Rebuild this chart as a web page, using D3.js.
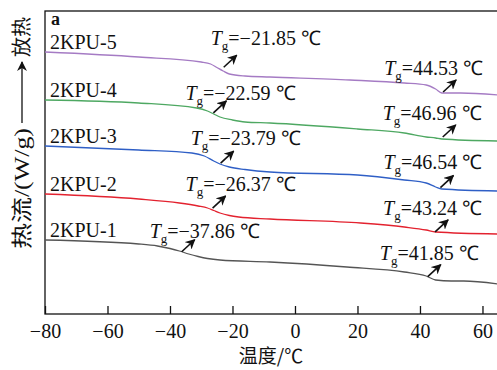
<!DOCTYPE html>
<html>
<head>
<meta charset="utf-8">
<script src="https://cdn.jsdelivr.net/npm/d3@7"></script>
<style>
  body { margin: 0; background: #fff; }
  text { font-family: "Liberation Serif", "Times New Roman", serif; fill: #111; }
  .cjk { font-family: "Noto Sans CJK SC", sans-serif; }
</style>
</head>
<body>
<script>
// DSC curves, heat flow in arbitrary units (offset stacked)
const names = ['2KPU-1', '2KPU-2', '2KPU-3', '2KPU-4', '2KPU-5']
const colors = ['#555555', '#e3222f', '#2f5fc6', '#4ea862', '#a57bc4']

const temp1 = [-80, -50, -44, -40, -37, -34, -31, -28, -24, -8, 16.6, 35, 42, 45, 50, 54, 65]
const flow1 = [74, 70, 68, 65.5, 63, 60, 57.5, 55.5, 54, 52, 47, 42, 38, 34, 33, 33, 30]
const temp2 = [-80, -50, -37, -31, -28, -26, -24, -21, -18, -8, 21, 35, 42, 45, 65]
const flow2 = [120, 115, 111, 108, 106, 103.5, 101, 98.5, 97, 95, 91, 87, 84, 82, 80]
const temp3 = [-80, -50, -33, -29, -26, -24, -21, -16, -8, 20, 35, 42, 45, 47, 65]
const flow3 = [168, 164, 161, 158, 153, 150, 147, 144.5, 142, 139, 134, 131, 127, 125, 123]
const temp4 = [-80, -50, -31.5, -28, -26, -24, -20, -16, -8, 20, 35, 42, 45, 47, 65]
const flow4 = [214, 211, 206, 203, 200, 197, 194, 192, 191, 185, 181, 177, 176, 175, 173]
const temp5 = [-80, -50, -30, -27, -25, -23, -21, -16, -8, 17.6, 35, 42, 45, 47, 53, 65]
const flow5 = [262, 257, 252, 250, 246.5, 243, 240, 238, 237, 234, 231, 229, 225, 221, 221, 219]

// glass transitions: which curve, and the Tg value
const tgCurve = [5, 5, 4, 4, 3, 3, 2, 2, 1, 1]
const tgValue = [-21.85, 44.53, -22.59, 46.96, -23.79, 46.54, -26.37, 43.24, -37.86, 41.85]
const tgText = ['−21.85', '44.53', '−22.59', '46.96', '−23.79', '46.54', '−26.37', '43.24', '−37.86', '41.85']

const xTicks = [-80, -60, -40, -20, 0, 20, 40, 60]

// layout of the annotation arrows and labels (pixel offsets)
const annLayout = [
  { dx: -3, dy: -4, tx: -26, ty: -10 },
  { dx: 9, dy: -1, tx: -72, ty: -5 },
  { dx: -11, dy: -1, tx: -41, ty: -1 },
  { dx: 1, dy: -2, tx: -73, ty: -5 },
  { dx: 0, dy: -1, tx: -43, ty: -6 },
  { dx: 0, dy: -1, tx: -70, ty: -7 },
  { dx: 0, dy: -2, tx: -40, ty: -5 },
  { dx: 5, dy: 0, tx: -65, ty: -5 },
  { dx: 5, dy: 0, tx: -45, ty: -2 },
  { dx: 2, dy: 0, tx: -61, ty: -5 }
]

const m = { width: 497, height: 370, left: 45, top: 11, bottom: 314 }

const temps = [temp1, temp2, temp3, temp4, temp5]
const flows = [flow1, flow2, flow3, flow4, flow5]
const data = names.map((n, i) => temps[i].map((t, j) => ({ t: t, v: flows[i][j] })))

const svg = d3.select('body').append('svg')
  .attr('width', m.width)
  .attr('height', m.height)

const x = d3.scaleLinear().domain([-80, 65]).range([m.left, 498.1])
const y = d3.scaleLinear().domain([0, 303]).range([m.bottom, m.top])

// frame
svg.append('rect')
  .attr('x', m.left).attr('y', m.top)
  .attr('width', 498.1 - m.left).attr('height', m.bottom - m.top)
  .attr('fill', 'none').attr('stroke', '#111').attr('stroke-width', 1.3)

// bottom axis, ticks pointing inward
const xAxis = d3.axisBottom(x).tickValues(xTicks).tickSize(-8).tickPadding(10)
  .tickFormat(d => d < 0 ? '−' + Math.abs(d) : d)
const gx = svg.append('g')
  .attr('transform', `translate(0,${m.bottom})`)
  .call(xAxis)
  .attr('font-family', null)
gx.select('.domain').remove()
gx.selectAll('line').attr('stroke', '#111').attr('stroke-width', 1.3)
gx.selectAll('text')
  .style('font-family', '"Liberation Serif", serif')
  .style('font-size', '20px').attr('fill', '#111')

// curves
const line = d3.line().x(d => x(d.t)).y(d => y(d.v)).curve(d3.curveMonotoneX)
svg.selectAll('path.curve')
  .data(data)
  .join('path')
  .attr('class', 'curve')
  .attr('d', line)
  .attr('fill', 'none')
  .attr('stroke', (d, i) => colors[i])
  .attr('stroke-width', 1.3)

// curve names
svg.selectAll('text.name')
  .data(data)
  .join('text')
  .attr('class', 'name')
  .attr('x', x(-80) + 5)
  .attr('y', d => y(d[0].v) - 3)
  .style('font-size', '20px')
  .text((d, i) => names[i])

svg.append('text')
  .attr('x', 51).attr('y', 25)
  .style('font-size', '18px').style('font-weight', 'bold')
  .text('a')

// arrows + Tg labels
svg.append('defs').append('marker')
  .attr('id', 'head')
  .attr('viewBox', '0 0 10 10')
  .attr('refX', 9).attr('refY', 5)
  .attr('markerWidth', 10).attr('markerHeight', 10)
  .attr('markerUnits', 'userSpaceOnUse')
  .attr('orient', 'auto')
  .append('path')
  .attr('d', 'M0,0 L10,5 L0,10 L3,5 Z')
  .attr('fill', '#111')

const interp = (k, t) => {
  const ts = temps[k], fs = flows[k]
  for (let j = 1; j < ts.length; j++) {
    if (t <= ts[j]) return fs[j - 1] + (fs[j] - fs[j - 1]) * (t - ts[j - 1]) / (ts[j] - ts[j - 1])
  }
  return fs[fs.length - 1]
}

tgValue.forEach((tg, i) => {
  const k = tgCurve[i] - 1
  const L = annLayout[i]
  const x0 = x(tg) + L.dx
  const y0 = y(interp(k, x.invert(x0))) + L.dy
  const x1 = x0 + 13, y1 = y0 - 12
  svg.append('line')
    .attr('x1', x0).attr('y1', y0).attr('x2', x1).attr('y2', y1)
    .attr('stroke', '#111').attr('stroke-width', 1.6)
    .attr('marker-end', 'url(#head)')
  const t = svg.append('text')
    .attr('x', x1 + L.tx).attr('y', y1 + L.ty)
    .style('font-size', '20px')
  t.append('tspan').style('font-style', 'italic').text('T')
  t.append('tspan').attr('dy', 5).style('font-size', '13px').text('g')
  t.append('tspan').attr('dy', -5).text('=' + tgText[i] + ' ℃')
})

// axis titles
svg.append('text')
  .attr('class', 'cjk')
  .attr('x', 271).attr('y', 363)
  .attr('text-anchor', 'middle')
  .style('font-size', '19px')
  .text('温度/℃')

const yl = svg.append('g').attr('transform', 'translate(22,0) rotate(-90)')
const ylab = yl.append('text')
  .attr('x', -249).attr('y', 7)
  .attr('textLength', 121)
  .attr('lengthAdjust', 'spacingAndGlyphs')
  .style('font-size', '21px')
ylab.append('tspan').attr('class', 'cjk').text('热流')
ylab.append('tspan').text('/(W/g)')
yl.append('line')
  .attr('x1', -123).attr('y1', 0).attr('x2', -62).attr('y2', 0)
  .attr('stroke', '#111').attr('stroke-width', 1.3)
  .attr('marker-end', 'url(#head)')
yl.append('text')
  .attr('class', 'cjk')
  .attr('x', -57).attr('y', 7)
  .style('font-size', '20px')
  .text('放热')
</script>
</body>
</html>
